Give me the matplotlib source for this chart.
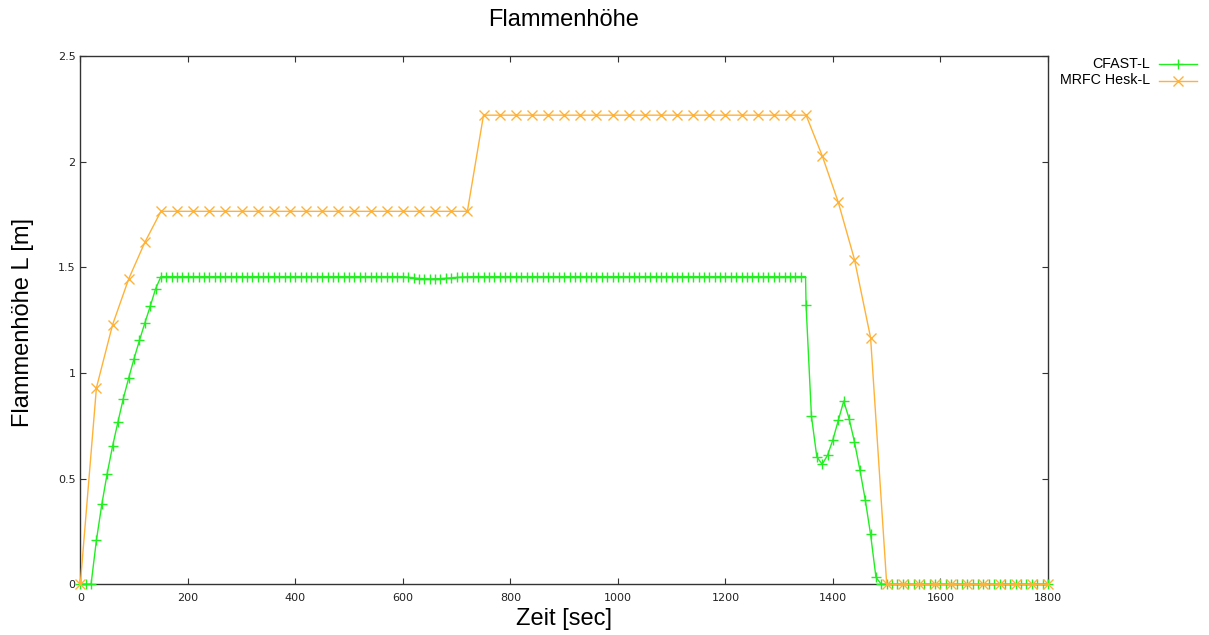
import matplotlib
matplotlib.use("Agg")
import matplotlib.pyplot as plt
from matplotlib.lines import Line2D
import numpy as np

# CFAST-L, sampled every 10 s (one extra corner point at 1349 s without marker)
green_time = (list(range(0, 160, 10)) + list(range(160, 600, 10)) + list(range(600, 740, 10))
              + list(range(740, 1350, 10)) + [1349] + list(range(1350, 1490, 10))
              + list(range(1490, 1810, 10)))
green_height = ([0, 0, 0, 0.209, 0.378, 0.524, 0.653, 0.768, 0.879, 0.976, 1.068, 1.154,
                 1.236, 1.315, 1.398, 1.456]
                + [1.456] * 44
                + [1.456, 1.453, 1.450, 1.447, 1.446, 1.445, 1.446, 1.446, 1.448, 1.450,
                   1.452, 1.454, 1.455, 1.456]
                + [1.456] * 61
                + [1.456]
                + [1.32, 0.795, 0.603, 0.568, 0.611, 0.685, 0.776, 0.867, 0.784, 0.674,
                   0.543, 0.401, 0.236, 0.033]
                + [0] * 32)
green_marked = [t != 1349 for t in green_time]

# MRFC Hesk-L, sampled every 30 s
orange_time = list(range(0, 1810, 30))
orange_height = ([0, 0.93, 1.228, 1.445, 1.618]
                 + [1.765] * 20
                 + [2.22] * 21
                 + [2.028, 1.807, 1.537, 1.167]
                 + [0] * 11)

labels = ["CFAST-L", "MRFC Hesk-L"]
colors = ["#22ee22", "#ffb238"]
markers = ["+", "x"]
msizes = [7, 7]

fig = plt.figure(figsize=(12.09, 6.35), dpi=100)
ax = fig.add_axes([80.3 / 1209, 1 - 584.3 / 635, (1048 - 80.3) / 1209, (584.3 - 56) / 635])

ax.plot(green_time, green_height, color=colors[0], lw=1.0, marker=markers[0], ms=msizes[0],
        mew=1.0, markevery=green_marked, clip_on=False, zorder=3)
ax.plot(orange_time, orange_height, color=colors[1], lw=1.0, marker=markers[1], ms=msizes[1],
        mew=1.0, clip_on=False, zorder=4)

ax.set_xlim(0, 1800)
ax.set_ylim(0, 2.5)
ax.set_xticks(range(0, 1801, 200))
ax.set_yticks([0, 0.5, 1, 1.5, 2, 2.5])
ax.set_yticklabels(["0", "0.5", "1", "1.5", "2", "2.5"], family="DejaVu Sans", fontsize=8)
ax.set_xticklabels([str(v) for v in range(0, 1801, 200)], family="DejaVu Sans", fontsize=8)
ax.tick_params(direction="in", length=4.5, width=0.8, color="#333333",
               labelcolor="#222222", top=True, right=True)
ax.tick_params(axis="x", pad=6)
ax.tick_params(axis="y", pad=3.5)
for s in ax.spines.values():
    s.set_color("#333333")
    s.set_linewidth(1.0)

fig.text(564 / 1209, 1 - 20.5 / 635, "Flammenhöhe", ha="center", va="center",
         family="Liberation Sans", fontsize=17)
fig.text(564 / 1209, 1 - 619 / 635, "Zeit [sec]", ha="center", va="center",
         family="Liberation Sans", fontsize=17)
fig.text(23 / 1209, 1 - 322.5 / 635, "Flammenhöhe L [m]", ha="center", va="center",
         rotation=90, family="Liberation Sans", fontsize=17)

# gnuplot style key: right aligned text, sample to the right
for i, lab in enumerate(labels):
    yy = 1 - (63.5 + i * 17) / 635
    fig.text(1150 / 1209, yy, lab, ha="right", va="center",
             family="Liberation Sans", fontsize=10.3)
    fig.add_artist(Line2D([1159 / 1209, 1197 / 1209], [yy, yy], color=colors[i], lw=1.0,
                          transform=fig.transFigure))
    fig.add_artist(Line2D([1178 / 1209], [yy], color=colors[i], marker=markers[i],
                          ms=msizes[i], mew=1.0, transform=fig.transFigure))

plt.savefig("out.png", dpi=100)
